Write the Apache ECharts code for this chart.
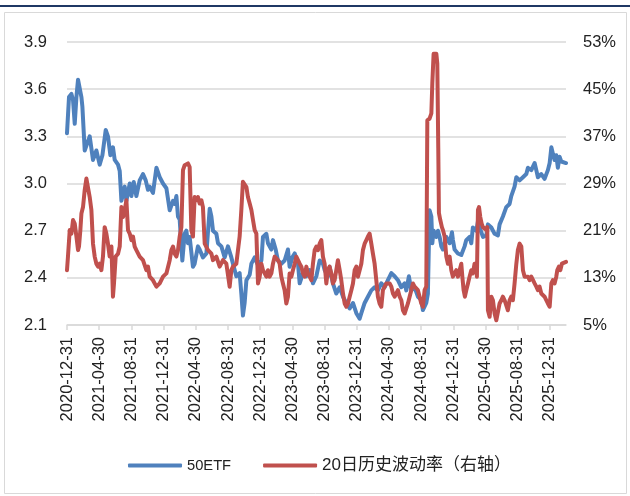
<!DOCTYPE html>
<html><head><meta charset="utf-8">
<script src="https://cdn.jsdelivr.net/npm/echarts@6/dist/echarts.min.js"></script>
<style>html,body{margin:0;padding:0;background:#fff}#c{width:630px;height:496px}</style>
</head><body><div id="c"></div>
<script>
// x positions are months elapsed since 2020-12-31
const tickLabels = ['2020-12-31','2021-04-30','2021-08-31','2021-12-31','2022-04-30','2022-08-31','2022-12-31','2023-04-30','2023-08-31','2023-12-31','2024-04-30','2024-08-31','2024-12-31','2025-04-30','2025-08-31','2025-12-31'];
const tickMonths = [0,4,8,12,16,20,24,28,32,36,40,44,48,52,56,60];
const leftTicks = [2.1, 3.9, 0.3];
const rightTicks = [5, 53, 8];

const etfMonths = [0,0.25,0.55,0.75,0.96,1.17,1.37,1.58,1.79,1.91,2.20,2.48,2.82,3.23,3.65,4.06,4.40,4.81,5.09,5.39,5.71,5.93,6.34,6.55,6.76,7.17,7.38,7.79,8.00,8.29,8.62,9.03,9.44,9.78,10.06,10.27,10.68,11.11,11.52,11.93,12.35,12.76,13.17,13.38,13.59,13.79,14.00,14.33,14.62,14.83,15.03,15.24,15.65,15.86,16.27,16.48,16.89,17.32,17.73,17.94,18.14,18.56,18.76,19.18,19.59,20.00,20.42,20.62,21.04,21.45,21.66,21.86,22.07,22.29,22.70,22.91,23.32,23.73,24.15,24.35,24.77,24.97,25.39,25.59,25.93,26.21,26.63,27.04,27.45,27.66,28.00,28.29,28.70,28.91,29.32,29.74,30.15,30.56,30.98,31.39,31.80,32.01,32.42,32.63,33.04,33.46,33.88,34.29,34.71,35.12,35.53,35.95,36.36,36.57,36.98,37.39,37.81,38.22,38.63,39.05,39.47,39.87,40.30,40.71,41.12,41.54,41.95,42.16,42.48,42.78,43.19,43.60,44.02,44.22,44.64,44.84,45.05,45.27,45.39,45.55,45.89,46.09,46.30,46.51,46.71,47.13,47.54,47.83,47.95,48.16,48.57,48.99,49.40,49.61,50.02,50.23,50.43,50.86,51.06,51.27,51.68,52.10,52.30,52.72,53.13,53.54,53.75,54.16,54.58,54.99,55.20,55.61,55.83,56.24,56.65,57.07,57.27,57.69,58.10,58.31,58.51,58.93,59.34,59.75,59.97,60.18,60.37,60.58,60.79,60.99,61.20,61.41,61.61,62.00];
const etfValues = [3.32,3.55,3.57,3.53,3.38,3.55,3.66,3.67,3.55,3.49,3.21,3.25,3.30,3.15,3.21,3.12,3.18,3.34,3.30,3.18,3.23,3.15,3.12,3.08,2.89,2.98,2.89,3.00,2.92,3.01,2.92,3.02,3.06,3.02,2.96,2.98,2.94,3.10,3.04,3.00,2.97,2.83,2.89,2.87,2.92,2.79,2.77,2.51,2.68,2.70,2.62,2.66,2.47,2.49,2.60,2.58,2.53,2.555,2.84,2.79,2.70,2.68,2.62,2.60,2.53,2.60,2.53,2.49,2.41,2.43,2.30,2.16,2.24,2.385,2.42,2.49,2.53,2.48,2.51,2.66,2.68,2.62,2.58,2.64,2.58,2.51,2.49,2.51,2.58,2.47,2.53,2.555,2.49,2.365,2.43,2.41,2.45,2.365,2.41,2.51,2.49,2.45,2.41,2.47,2.365,2.30,2.34,2.28,2.24,2.205,2.24,2.175,2.14,2.175,2.24,2.28,2.32,2.34,2.32,2.365,2.34,2.385,2.43,2.41,2.385,2.34,2.365,2.32,2.41,2.32,2.34,2.28,2.26,2.195,2.24,2.30,2.83,2.79,2.62,2.70,2.66,2.70,2.66,2.60,2.58,2.66,2.62,2.69,2.64,2.58,2.555,2.545,2.60,2.64,2.66,2.62,2.72,2.70,2.76,2.72,2.66,2.67,2.74,2.72,2.68,2.67,2.74,2.79,2.85,2.87,2.92,2.98,3.04,3.02,3.04,3.06,3.10,3.085,3.13,3.085,3.04,3.06,3.03,3.085,3.13,3.23,3.19,3.15,3.18,3.10,3.17,3.14,3.13,3.13];

const volMonths = [0,0.12,0.34,0.55,0.75,0.96,1.17,1.37,1.49,1.66,1.79,1.99,2.20,2.41,2.61,2.82,3.03,3.23,3.44,3.65,3.85,4.06,4.27,4.47,4.68,4.89,5.09,5.30,5.52,5.71,5.84,6.05,6.34,6.55,6.76,6.96,7.17,7.38,7.58,7.79,8.00,8.20,8.41,8.62,9.03,9.44,9.86,10.06,10.27,10.68,11.11,11.52,11.93,12.35,12.76,12.97,13.17,13.38,13.59,13.79,14.00,14.21,14.41,14.62,14.83,15.03,15.24,15.45,15.65,15.86,16.07,16.27,16.48,16.70,16.89,17.11,17.52,17.94,18.14,18.56,18.97,19.38,19.80,20.21,20.42,20.62,21.04,21.45,21.66,21.86,22.07,22.29,22.48,22.70,22.91,23.11,23.32,23.53,23.73,23.94,24.15,24.35,24.56,24.77,24.97,25.18,25.39,25.59,25.80,26.21,26.42,26.63,26.83,27.04,27.25,27.45,27.66,27.88,28.07,28.29,28.49,28.70,28.91,29.12,29.32,29.53,29.74,29.94,30.15,30.36,30.56,30.77,30.98,31.18,31.39,31.60,31.80,32.01,32.22,32.42,32.63,32.84,33.04,33.25,33.46,33.66,33.88,34.08,34.29,34.50,34.71,34.91,35.12,35.33,35.53,35.74,35.95,36.15,36.36,36.57,36.77,36.98,37.19,37.39,37.60,37.81,38.01,38.22,38.43,38.63,38.84,39.05,39.25,39.47,39.67,40.09,40.30,40.50,40.71,40.91,41.12,41.33,41.54,41.74,41.95,42.16,42.36,42.57,42.78,42.98,43.19,43.40,43.60,43.81,44.02,44.22,44.43,44.64,44.77,45.05,45.27,45.39,45.55,45.72,45.89,46.01,46.13,46.21,46.38,46.58,46.71,46.92,47.13,47.33,47.54,47.75,47.95,48.16,48.37,48.57,48.78,48.99,49.12,49.28,49.44,49.61,49.82,50.02,50.23,50.43,50.64,50.86,50.93,51.06,51.19,51.35,51.52,51.68,51.89,52.10,52.22,52.30,52.51,52.72,52.92,53.13,53.34,53.54,53.75,53.96,54.16,54.37,54.58,54.78,54.99,55.20,55.40,55.61,55.83,56.02,56.24,56.45,56.65,56.86,57.07,57.27,57.48,57.69,57.89,58.10,58.31,58.51,58.72,58.93,59.13,59.34,59.55,59.75,59.97,60.18,60.37,60.58,60.79,60.92,61.12,61.29,61.49,61.70,62.00];
const volValues = [14.3,16.6,21.1,20.5,22.8,22.2,20.0,17.7,18.3,21.1,23.9,25.0,27.9,29.85,29.6,26.7,24.5,18.8,16.6,15.4,14.9,15.4,14.3,16.6,21.6,20.5,18.8,16.6,18.3,9.8,12.05,16.6,17.1,18.3,25.0,23.3,24.5,26.15,21.1,20.5,19.4,20.0,18.3,17.7,16.6,16.0,14.3,14.9,13.2,12.6,11.5,12.05,13.2,13.75,16.0,17.7,18.3,17.1,16.6,17.7,20.0,21.6,31.25,32.1,32.4,32.4,31.8,21.1,20.0,26.7,26.15,26.7,25.6,26.15,25.0,18.8,17.7,17.1,16.0,16.6,14.9,16.0,15.4,11.5,14.3,14.9,15.4,20.0,24.5,29.3,29.6,28.4,26.7,25.6,24.5,22.8,21.1,20.5,12.05,13.2,15.4,14.3,13.75,13.2,14.3,13.2,13.75,15.4,16.6,16.0,15.4,13.2,12.05,10.9,8.65,9.8,13.75,13.2,14.3,15.4,16.6,16.0,15.4,14.9,13.75,13.2,14.9,13.75,13.2,12.6,15.4,17.7,18.3,17.7,18.8,19.4,16.6,15.4,12.05,14.3,14.9,13.75,12.05,12.6,14.3,16.0,14.3,12.6,10.35,8.65,8.1,8.65,9.8,10.9,12.05,14.3,14.9,13.2,14.3,15.4,17.7,18.8,19.4,20.0,20.5,18.8,17.1,15.4,12.6,9.8,8.65,8.1,10.9,11.5,12.05,12.05,11.5,10.35,9.8,10.35,10.9,9.8,9.2,7.5,6.95,6.95,8.65,9.8,10.9,12.05,11.5,11.5,10.9,9.8,8.65,8.1,10.9,11.5,39.7,40.0,40.9,46.0,51.0,51.3,51.0,49.3,35.0,24.0,22.8,21.6,21.1,20.0,16.6,15.4,16.6,14.3,13.2,13.75,14.3,13.2,14.3,15.4,13.2,10.9,9.8,10.9,12.05,13.2,14.3,13.75,15.4,14.9,13.2,24.5,25.0,23.3,22.2,21.6,21.6,21.1,21.6,7.5,6.4,9.8,9.2,6.95,5.8,5.8,8.65,9.2,9.8,9.2,9.2,7.5,9.2,9.8,9.2,12.05,15.4,17.7,18.8,18.3,14.3,13.2,13.2,13.2,12.6,13.2,13.2,12.05,11.5,10.9,11.5,10.35,10.35,9.8,9.2,8.65,8.1,12.05,12.6,12.05,13.2,14.3,14.9,14.3,15.4,15.4,15.7];

const BLUE = '#4F81BD', RED = '#C0504D';
const FONT = "'Liberation Sans', Arial, 'Noto Sans CJK SC', sans-serif";
const TXT = '#222';

const chart = echarts.init(document.getElementById('c'), null, {renderer: 'canvas'});
const zip = (a, b) => a.map((x, i) => [x, b[i]]);

chart.setOption({
  animation: false,
  backgroundColor: '#fff',
  grid: {left: 67, right: 64, top: 42, bottom: 171, containLabel: false},
  graphic: [
    {type: 'line', shape: {x1: 0, y1: 6, x2: 630, y2: 6}, style: {stroke: '#1F3864', lineWidth: 2}, silent: true},
    {type: 'rect', shape: {x: 4.5, y: 12.5, width: 622, height: 481}, style: {fill: null, stroke: '#D9D9D9', lineWidth: 1}, silent: true}
  ],
  legend: {
    left: 123, top: 452, itemWidth: 54, itemHeight: 4, itemGap: 32, icon: 'roundRect',
    data: ['50ETF', '20日历史波动率（右轴）'],
    formatter: n => n === '50ETF' ? '{s|' + n + '}' : n,
    textStyle: {fontSize: 17, fontFamily: FONT, color: TXT, rich: {s: {fontSize: 14.7, fontFamily: FONT, color: TXT}}}
  },
  xAxis: {
    type: 'value', min: 0, max: 62,
    axisLine: {show: true, lineStyle: {color: '#D9D9D9', width: 1.5}},
    axisTick: {show: true, length: 5, lineStyle: {color: '#D9D9D9', width: 1.5}, customValues: tickMonths},
    axisLabel: {customValues: tickMonths, rotate: 90, margin: 12, fontSize: 16.5, fontFamily: FONT, color: TXT,
      formatter: v => tickLabels[tickMonths.indexOf(Math.round(v))] || ''},
    splitLine: {show: false}
  },
  yAxis: [
    {type: 'value', min: leftTicks[0], max: leftTicks[1], interval: leftTicks[2],
      axisLine: {show: false}, axisTick: {show: false},
      axisLabel: {margin: 20, fontSize: 16.5, fontFamily: FONT, color: TXT, formatter: v => v.toFixed(1)},
      splitLine: {show: true, lineStyle: {color: '#D9D9D9', width: 1.5}}},
    {type: 'value', min: rightTicks[0], max: rightTicks[1], interval: rightTicks[2],
      axisLine: {show: false}, axisTick: {show: false},
      axisLabel: {margin: 17, fontSize: 16.5, fontFamily: FONT, color: TXT, formatter: v => Math.round(v) + '%'},
      splitLine: {show: false}}
  ],
  series: [
    {name: '50ETF', type: 'line', yAxisIndex: 0, data: zip(etfMonths, etfValues), showSymbol: false, symbol: 'none',
      lineStyle: {color: BLUE, width: 4, cap: 'round', join: 'round'}, itemStyle: {color: BLUE}, z: 2},
    {name: '20日历史波动率（右轴）', type: 'line', yAxisIndex: 1, data: zip(volMonths, volValues), showSymbol: false, symbol: 'none',
      lineStyle: {color: RED, width: 4, cap: 'round', join: 'round'}, itemStyle: {color: RED}, z: 3}
  ]
});
</script>
</body></html>
